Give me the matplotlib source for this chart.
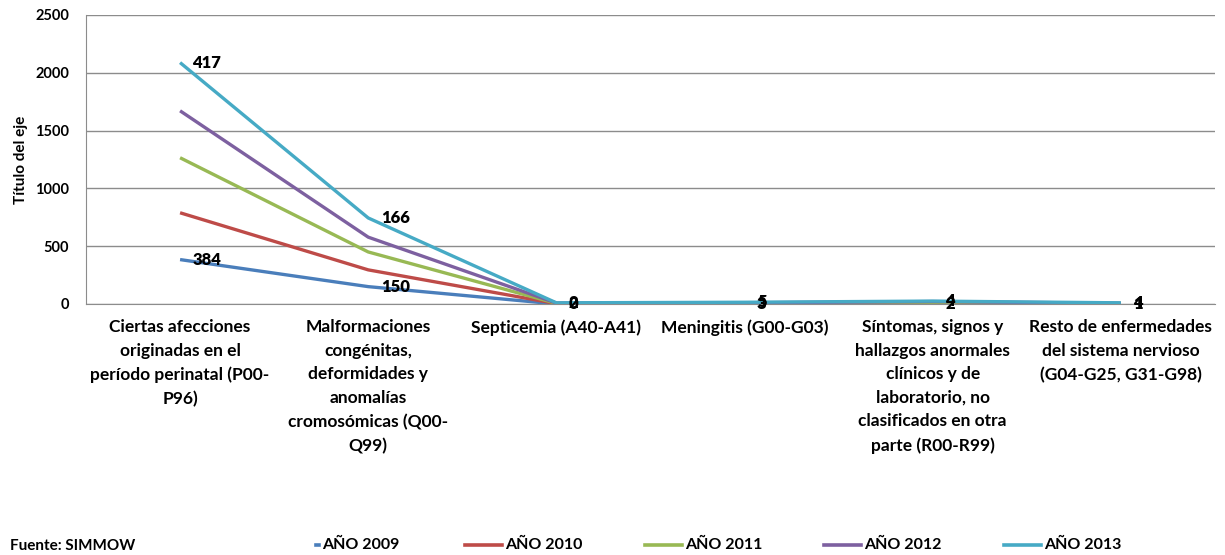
import matplotlib
matplotlib.use("Agg")
import matplotlib.pyplot as plt
from matplotlib.lines import Line2D
import numpy as np

plt.rcParams['font.family'] = ['Lato', 'DejaVu Sans']
plt.rcParams['font.weight'] = 'bold'

categories = [
    "Ciertas afecciones\noriginadas en el\nperíodo perinatal (P00-\nP96)",
    "Malformaciones\ncongénitas,\ndeformidades y\nanomalías\ncromosómicas (Q00-\nQ99)",
    "Septicemia (A40-A41)",
    "Meningitis (G00-G03)",
    "Síntomas, signos y\nhallazgos anormales\nclínicos y de\nlaboratorio, no\nclasificados en otra\nparte (R00-R99)",
    "Resto de enfermedades\ndel sistema nervioso\n(G04-G25, G31-G98)",
]

series_names = ["AÑO 2009", "AÑO 2010", "AÑO 2011", "AÑO 2012", "AÑO 2013"]
anio_2009 = [384, 150, 0, 3, 2, 1]
anio_2010 = [405, 145, 3, 2, 6, 2]
anio_2011 = [476, 155, 2, 3, 5, 1]
anio_2012 = [406, 128, 3, 2, 8, 2]
anio_2013 = [417, 166, 2, 5, 4, 4]
series_values = [anio_2009, anio_2010, anio_2011, anio_2012, anio_2013]
colors = ["#4A7EBB", "#BE4B48", "#98B954", "#7D60A0", "#46AAC5"]

fig = plt.figure(figsize=(12.25, 5.55), dpi=100)
ax = fig.add_axes([0.0702, 0.4523, 0.9216, 0.5207])

x = np.arange(len(categories))
cum = np.cumsum(np.array(series_values), axis=0)
for vals, c in zip(cum, colors):
    ax.plot(x, vals, color=c, lw=2.4, solid_capstyle='butt', zorder=3)

# data labels on first and last series (stacked positions)
for idx in (0, 4):
    for xi, (v, top) in enumerate(zip(series_values[idx], cum[idx])):
        ax.annotate(str(v), (xi, top), xytext=(9, 0), textcoords='offset points',
                    ha='left', va='center', fontsize=12, fontweight='heavy',
                    color='black', zorder=4)

ax.set_xlim(-0.5, len(categories) - 0.5)
ax.set_ylim(0, 2500)
ax.set_yticks(np.arange(0, 2501, 500))
ax.yaxis.grid(True, color='#8c8c8c', lw=1)
ax.set_axisbelow(True)
for s in ('top', 'right'):
    ax.spines[s].set_visible(False)
ax.spines['left'].set_color('#8c8c8c')
ax.spines['bottom'].set_color('#8c8c8c')
ax.tick_params(axis='y', length=0, pad=12, labelsize=10.5)
ax.tick_params(axis='x', length=0, pad=11, labelsize=12.5)
ax.set_xticks(x)
ax.set_xticklabels(categories, va='top', ha='center', linespacing=1.58,
                   fontweight='bold')
for lbl in ax.get_yticklabels():
    lbl.set_fontweight('bold')
ax.set_ylabel("Título del eje", fontsize=11, fontweight='bold', labelpad=5)

# footer: source and legend
fig.text(10 / 1225, 1 - 546 / 555, "Fuente: SIMMOW", fontsize=11,
         fontweight='bold', va='center', ha='left')
leg_x = [316, 465, 645, 824, 1004]
handle_len = [3, 37, 37, 37, 37]
yl = 1 - 545 / 555
for name, c, lx, hl in zip(series_names, colors, leg_x, handle_len):
    fig.add_artist(Line2D([lx / 1225, (lx + hl) / 1225], [yl, yl], color=c,
                          lw=2.6, transform=fig.transFigure))
    fig.text((lx + hl + 3) / 1225, yl, name, fontsize=11.5, fontweight='bold',
             va='center', ha='left')

fig.savefig("out.png", dpi=100)
